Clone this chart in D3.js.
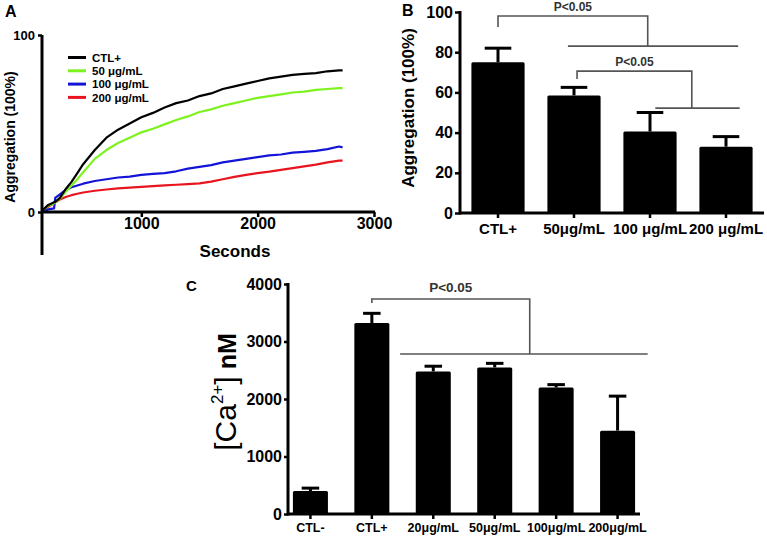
<!DOCTYPE html>
<html><head><meta charset="utf-8">
<script src="https://cdn.jsdelivr.net/npm/d3@7"></script>
<style>body{margin:0;background:#fff}svg{display:block;font-family:Arial,"Liberation Sans",sans-serif}</style>
</head><body><svg id="c" width="767" height="537"></svg>
<script>
// ---------- Panel A data ----------
const timesA = [150,200,250,260,300,350,400,450,500,600,700,800,900,1000,1100,1200,1300,1400,1500,1600,1700,1800,1900,2000,2100,2200,2300,2400,2500,2600,2700,2730];
const ctlPlusA = [1,4,5.5,5.7,8,13,17,22,27,35,42,46.5,50,53.5,56,59,61.5,63,65.5,67,69.5,71,72.5,74,75.5,76.5,77.5,78,78.5,79.5,80,80];
const dose50A  = [1,3.5,5,5.4,7.5,11.5,15,18.5,22.5,30,35,39,42,45,47,49.5,52,54,56.5,58,60,61.5,63,64.5,65.5,66.5,67.5,68,69,69.5,70,70];
const dose100A = [0.5,1.5,2,8,10,12.5,14,15,16,17.5,18.5,19.5,20,21,21.5,22,23,24.5,25.5,26.5,28,29,30,31,32,32.5,33.5,34,34.5,35.5,37,36.5];
const dose200A = [0.5,3,5,5.5,7,8.5,9.5,10.3,11,12,12.7,13.3,13.8,14.2,14.6,15,15.4,15.8,16.2,17.2,18.5,19.8,21,22,22.8,23.8,24.8,25.8,26.8,28,29,29];
const seriesNamesA = ["CTL+","50 μg/mL","100 μg/mL","200 μg/mL"];
const seriesColorsA = ["#000000","#7df21e","#1414d8","#e8141e"];
const xTicksA = [1000,2000,3000];
const yTicksA = [0,100];

// ---------- Panel B data ----------
const catsB = ["CTL+","50μg/mL","100 μg/mL","200 μg/mL"];
const meanB = [75,58.5,40.5,33];
const errB  = [7,4,9.5,5];
const yTicksB = [0,20,40,60,80,100];
// brackets: [leftIdx, rightIdx, topVal, leftEndVal, rightEndVal, lineFromIdx, lineToIdx]
const bracketsB = [[0,1.97,98,92.5,83,0.92,3.16],[1.04,2.55,70.6,66.7,52.2,2.07,3.18]];

// ---------- Panel C data ----------
const catsC = ["CTL-","CTL+","20μg/mL","50μg/mL","100μg/mL","200μg/mL"];
const meanC = [400,3320,2480,2550,2200,1450];
const errC  = [50,170,90,70,50,600];
const yTicksC = [0,1000,2000,3000,4000];
const bracketsC = [[1,3.57,3739,3670,2783,1.46,5.49]];

const FONT = 'Arial,"Liberation Sans",sans-serif';
const svg = d3.select("#c");

function styleAxis(g, fs, sw){
  g.select(".domain").remove();
  g.selectAll(".tick line").attr("stroke","#000").attr("stroke-width",sw);
  g.selectAll(".tick text").attr("font-size",fs).attr("font-weight","bold").attr("fill","#000").attr("font-family",FONT);
}
function label(x,y,t,fs,opts={}){
  return svg.append("text").attr("x",x).attr("y",y).text(t)
    .attr("font-size",fs).attr("font-weight",opts.weight||"bold")
    .attr("text-anchor",opts.anchor||"start").attr("fill","#000")
    .attr("transform",opts.rot?`rotate(-90,${x},${y})`:null);
}

// ===== Panel A =====
const xA = d3.scaleLinear().domain([0,3000]).range([25,374]);
const yA = d3.scaleLinear().domain([0,100]).range([212,35]);
const axA = 42;
const seriesA = [ctlPlusA,dose50A,dose100A,dose200A];
const lineA = d3.line().x((d,i)=>xA(timesA[i])).y(d=>yA(d));
[3,2,1,0].forEach(k=>{
  svg.append("path").datum(seriesA[k]).attr("d",lineA)
    .attr("fill","none").attr("stroke",seriesColorsA[k]).attr("stroke-width",2.2).attr("stroke-linejoin","round");
});
const gxA = svg.append("g").attr("transform","translate(0,212)")
  .call(d3.axisBottom(xA).tickValues(xTicksA).tickFormat(d3.format("d")).tickSize(5).tickPadding(1));
styleAxis(gxA,16,2.5);
const gyA = svg.append("g").attr("transform",`translate(${axA},0)`)
  .call(d3.axisLeft(yA).tickValues(yTicksA).tickSize(4).tickPadding(3));
styleAxis(gyA,13,2.5);
svg.append("line").attr("x1",axA).attr("x2",xA(3000)+1).attr("y1",212).attr("y2",212).attr("stroke","#000").attr("stroke-width",3);
svg.append("line").attr("x1",axA).attr("x2",axA).attr("y1",yA(100)).attr("y2",255).attr("stroke","#000").attr("stroke-width",3);
label(235,257,"Seconds",17,{anchor:"middle"});
label(15,137,"Aggregation (100%)",14,{anchor:"middle",rot:true});
label(5,17,"A",16);
// legend
seriesNamesA.forEach((n,i)=>{
  const y = 57.5 + i*13.3;
  svg.append("line").attr("x1",68).attr("x2",86).attr("y1",y).attr("y2",y).attr("stroke",seriesColorsA[i]).attr("stroke-width",3);
  svg.append("text").attr("x",92).attr("y",y+4.2).attr("font-size",11.5).attr("font-weight","bold").attr("fill","#000").text(n);
});

// ===== generic bar panel =====
function barPanel(cfg){
  const x = d3.scaleBand().domain(cfg.cats).range(cfg.xr).paddingInner(cfg.pi).paddingOuter(cfg.po);
  const y = d3.scaleLinear().domain(cfg.yd).range(cfg.yr);
  const bw = x.bandwidth(), step = x.step();
  const pos = i => x(cfg.cats[0]) + bw/2 + i*step;
  svg.append("g").selectAll("rect").data(cfg.mean).join("rect")
    .attr("x",(d,i)=>x(cfg.cats[i])).attr("width",bw)
    .attr("y",d=>y(d)).attr("height",d=>y(0)-y(d)).attr("fill","#000")
    .attr("rx",1.5);
  const eg = svg.append("g").attr("stroke","#000").attr("stroke-width",cfg.esw);
  cfg.mean.forEach((m,i)=>{
    const cx = x(cfg.cats[i])+bw/2;
    eg.append("line").attr("x1",cx).attr("x2",cx).attr("y1",y(m)).attr("y2",y(m+cfg.err[i]));
    eg.append("line").attr("x1",cx-bw*cfg.cap/2).attr("x2",cx+bw*cfg.cap/2).attr("y1",y(m+cfg.err[i])).attr("y2",y(m+cfg.err[i]));
  });
  const gx = svg.append("g").attr("transform",`translate(0,${cfg.yr[0]})`)
    .call(d3.axisBottom(x).tickSize(5).tickPadding(cfg.xpad));
  styleAxis(gx,cfg.xfs,2.5);
  const gy = svg.append("g").attr("transform",`translate(${cfg.xr[0]},0)`)
    .call(d3.axisLeft(y).tickValues(cfg.yticks).tickFormat(d3.format("d")).tickSize(cfg.ytick).tickPadding(cfg.ypad));
  styleAxis(gy,cfg.yfs,2.5);
  svg.append("line").attr("x1",cfg.xr[0]).attr("x2",cfg.xr[1]).attr("y1",cfg.yr[0]).attr("y2",cfg.yr[0]).attr("stroke","#000").attr("stroke-width",3);
  svg.append("line").attr("x1",cfg.xr[0]).attr("x2",cfg.xr[0]).attr("y1",cfg.yr[1]-1).attr("y2",cfg.yr[0]+1.5).attr("stroke","#000").attr("stroke-width",3);
  cfg.brackets.forEach((b,k)=>{
    const [l,r,top,le,re,f,t] = b;
    svg.append("path").attr("d",`M${pos(l)},${y(le)}V${y(top)}H${pos(r)}V${y(re)}M${pos(f)},${y(re)}H${pos(t)}`)
      .attr("fill","none").attr("stroke","#555").attr("stroke-width",1.6);
    svg.append("text").attr("x",(pos(l)+pos(r))/2).attr("y",y(top)-cfg.pgap).attr("text-anchor","middle")
      .attr("font-size",cfg.pfs).attr("font-weight","bold").attr("fill","#333").text("P<0.05");
  });
  return {x,y};
}

// ===== Panel B =====
barPanel({cats:catsB,mean:meanB,err:errB,xr:[460,764],yr:[213,12],yd:[0,100],pi:0.3,po:0.15,
  yticks:yTicksB,ytick:5,ypad:2,yfs:16,xfs:15,xpad:5,esw:3,cap:0.5,brackets:bracketsB,pfs:12,pgap:5});
label(414,108,"Aggregation (100%)",17,{anchor:"middle",rot:true});
label(402,16,"B",16);

// ===== Panel C =====
barPanel({cats:catsC,mean:meanC,err:errC,xr:[288,640],yr:[514,284],yd:[0,4000],pi:0.43,po:0.08,
  yticks:yTicksC,ytick:4,ypad:2,yfs:16,xfs:12.5,xpad:4,esw:3,cap:0.5,brackets:bracketsC,pfs:13.5,pgap:7});
label(186,291,"C",15);
const yl = svg.append("text").attr("x",236).attr("y",392).attr("text-anchor","middle").attr("fill","#000")
  .attr("transform","rotate(-90,236,392)").attr("font-family",FONT);
yl.append("tspan").attr("font-size",30).text("[Ca");
yl.append("tspan").attr("font-size",17).attr("dy",-13).text("2+");
yl.append("tspan").attr("font-size",30).attr("dy",13).text("]");
yl.append("tspan").attr("font-size",25).attr("font-weight","bold").text(" nM");
</script></body></html>
